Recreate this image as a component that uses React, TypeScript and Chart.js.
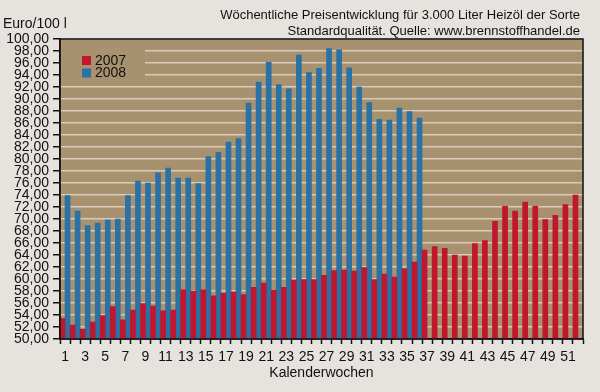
import React, { useEffect, useRef } from 'react';
import { Chart, registerables } from 'chart.js';

Chart.register(...registerables);

const weeks = [
  '1', '2', '3', '4', '5', '6', '7', '8', '9', '10', '11', '12', '13',
  '14', '15', '16', '17', '18', '19', '20', '21', '22', '23', '24', '25', '26',
  '27', '28', '29', '30', '31', '32', '33', '34', '35', '36', '37', '38', '39',
  '40', '41', '42', '43', '44', '45', '46', '47', '48', '49', '50', '51', '52',
];

const prices2007 = [
  53.4, 52.3, 51.6, 52.8, 53.9, 55.4, 53.2, 54.8, 55.9, 55.5, 54.7, 54.8, 58.2,
  58.0, 58.2, 57.2, 57.6, 57.8, 57.4, 58.6, 59.3, 58.1, 58.6, 59.8, 59.9, 59.9,
  60.6, 61.4, 61.5, 61.3, 61.9, 59.9, 60.8, 60.3, 61.7, 62.8, 64.8, 65.4, 65.1,
  64.0, 63.8, 65.9, 66.4, 69.6, 72.1, 71.3, 72.8, 72.1, 69.9, 70.6, 72.4, 74.0,
];

const prices2008 = [
  73.9, 71.3, 68.9, 69.3, 69.8, 70.0, 73.9, 76.3, 76.0, 77.7, 78.5, 76.8, 76.8,
  75.9, 80.4, 81.1, 82.8, 83.4, 89.3, 92.8, 96.1, 92.4, 91.7, 97.3, 94.4, 95.1,
  98.4, 98.2, 95.2, 92.0, 89.4, 86.6, 86.5, 88.5, 87.9, 86.8, null, null, null,
  null, null, null, null, null, null, null, null, null, null, null, null, null,
];

const seriesNames = ['2007', '2008'];
const titleLines = [
  'Wöchentliche Preisentwicklung für 3.000 Liter Heizöl der Sorte',
  'Standardqualität. Quelle: www.brennstoffhandel.de',
];
const unitLabel = 'Euro/100 l';
const xAxisTitle = 'Kalenderwochen';

const PAGE_BG = '#e6e3de';
const PLOT_BG = '#a8916f';
const GRID = '#d9ccb6';
const RED = '#c0172f';
const BLUE = '#2a72a6';
const FONT = '"Liberation Sans", Arial, Helvetica, sans-serif';

export default function App() {
  const ref = useRef<HTMLCanvasElement | null>(null);

  useEffect(() => {
    document.body.style.margin = '0';
    document.body.style.background = PAGE_BG;
    const canvas = ref.current;
    if (!canvas) return;

    const decor = {
      id: 'decor',
      beforeDraw(chart: any) {
        const { ctx, chartArea: a } = chart;
        ctx.save();
        ctx.fillStyle = PAGE_BG;
        ctx.fillRect(0, 0, chart.width, chart.height);
        ctx.fillStyle = PLOT_BG;
        ctx.fillRect(a.left, a.top, a.right - a.left, a.bottom - a.top);
        ctx.restore();
      },
      beforeDatasetsDraw(chart: any) {
        const { ctx, chartArea: a } = chart;
        ctx.save();
        // legend box
        ctx.fillStyle = PLOT_BG;
        ctx.fillRect(a.left + 1, a.top + 1, 84, 43);
        ctx.font = `14px ${FONT}`;
        ctx.textBaseline = 'middle';
        ctx.textAlign = 'left';
        const colors = [RED, BLUE];
        seriesNames.forEach((n, i) => {
          ctx.fillStyle = colors[i];
          ctx.fillRect(82, 56 + i * 12.5, 9, 9);
          ctx.fillStyle = '#111';
          ctx.fillText(n, 95, 61 + i * 12.5);
        });
        ctx.restore();
      },
      afterDraw(chart: any) {
        const { ctx, chartArea: a } = chart;
        ctx.save();
        ctx.strokeStyle = '#111';
        ctx.lineWidth = 1.5;
        ctx.strokeRect(a.left, a.top, a.right - a.left, a.bottom - a.top);
        ctx.fillStyle = '#111';
        ctx.font = `13px ${FONT}`;
        ctx.textBaseline = 'middle';
        ctx.textAlign = 'right';
        ctx.fillText(titleLines[0], 580, 15);
        ctx.fillText(titleLines[1], 580, 31);
        ctx.font = `14px ${FONT}`;
        ctx.textAlign = 'left';
        ctx.fillText(unitLabel, 3, 24);
        ctx.restore();
      },
    };

    const chart = new Chart(canvas, {
      type: 'bar',
      data: {
        labels: weeks,
        datasets: [
          {
            label: seriesNames[0],
            data: prices2007,
            backgroundColor: RED,
            borderWidth: 0,
            categoryPercentage: 1,
            barPercentage: 1,
          },
          {
            label: seriesNames[1],
            data: prices2008,
            backgroundColor: BLUE,
            borderWidth: 0,
            categoryPercentage: 1,
            barPercentage: 1,
          },
        ],
      },
      options: {
        responsive: false,
        animation: false,
        devicePixelRatio: 1,
        layout: { padding: { top: 39, right: 17, left: 0, bottom: 0 } },
        plugins: {
          legend: { display: false },
          tooltip: { enabled: false },
          title: { display: false },
        },
        scales: {
          x: {
            offset: true,
            afterFit: (s: any) => { s.height = 53; },
            grid: {
              display: true,
              offset: true,
              drawOnChartArea: false,
              drawTicks: true,
              tickLength: 5,
              tickColor: '#111',
              tickWidth: 1.5,
            },
            border: { display: true, color: '#111', width: 1.5 },
            ticks: {
              autoSkip: false,
              maxRotation: 0,
              minRotation: 0,
              padding: 5,
              color: '#111',
              font: { size: 14, family: FONT },
              callback: (_v: any, i: number) => (i % 2 === 0 ? weeks[i] : ''),
            },
            title: {
              display: true,
              text: xAxisTitle,
              color: '#111',
              font: { size: 14, family: FONT },
              padding: { top: 0, bottom: 10 },
            },
          },
          y: {
            min: 50,
            max: 100,
            afterFit: (s: any) => { s.width = 60; },
            grid: {
              color: GRID,
              lineWidth: 1.5,
              drawTicks: true,
              tickLength: 7,
              tickColor: '#111',
              tickWidth: 1.5,
            },
            border: { display: true, color: '#111', width: 1.5 },
            ticks: {
              stepSize: 2,
              autoSkip: false,
              padding: 4,
              color: '#111',
              font: { size: 14, family: FONT },
              callback: (v: any) => Number(v).toFixed(2).replace('.', ','),
            },
          },
        },
      },
      plugins: [decor],
    });

    return () => chart.destroy();
  }, []);

  return (
    <div style={{ width: 600, height: 392, background: PAGE_BG }}>
      <canvas ref={ref} width={600} height={392} style={{ display: 'block' }} />
    </div>
  );
}
